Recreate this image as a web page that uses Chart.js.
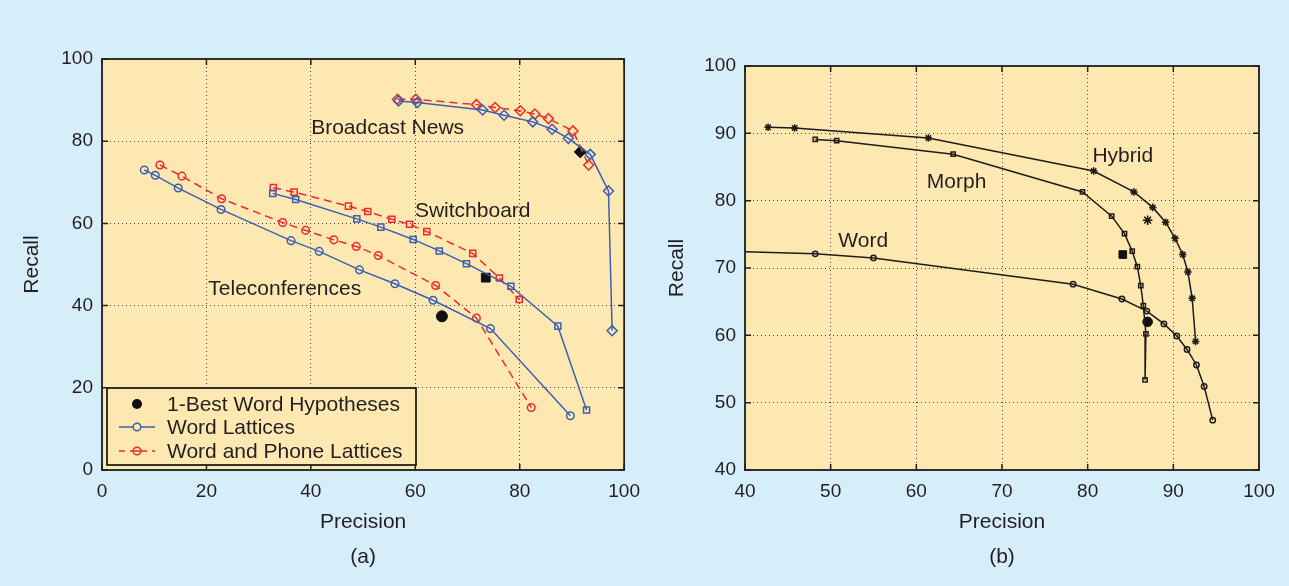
<!DOCTYPE html>
<html>
<head>
<meta charset="utf-8">
<script src="https://cdn.jsdelivr.net/npm/chart.js@4.4.0/dist/chart.umd.min.js"></script>
<style>
html, body { margin: 0; padding: 0; background: #d6edfa; }
#wrap { position: relative; width: 1289px; height: 586px; overflow: hidden; }
#chartA { position: absolute; left: 0; top: 0; }
#chartB { position: absolute; left: 650px; top: 0; }
</style>
</head>
<body>
<div id="wrap">
  <canvas id="chartA" width="650" height="586"></canvas>
  <canvas id="chartB" width="639" height="586"></canvas>
</div>
<script>
// ---- (a) precision / recall, three corpora ----
const bnWordX  = [56.8, 60.4, 72.9, 77.0, 82.5, 86.2, 89.3, 93.5, 97.0, 97.7];
const bnWordY  = [89.8, 89.4, 87.6, 86.3, 84.7, 82.9, 80.7, 76.8, 67.9, 33.9];
const bnPhoneX = [56.6, 60.1, 71.7, 75.3, 80.1, 82.9, 85.5, 90.2, 93.2];
const bnPhoneY = [90.2, 90.2, 88.9, 88.2, 87.4, 86.6, 85.5, 82.5, 74.2];
const swWordX  = [32.7, 37.1, 48.8, 53.4, 59.6, 64.6, 69.8, 78.3, 87.3, 92.8];
const swWordY  = [67.3, 65.8, 61.1, 59.1, 56.1, 53.3, 50.2, 44.7, 35.0, 14.6];
const swPhoneX = [32.8, 36.8, 47.2, 50.9, 55.5, 58.9, 62.2, 71.0, 76.1, 79.9];
const swPhoneY = [68.7, 67.6, 64.2, 62.9, 61.0, 59.8, 58.0, 52.7, 46.7, 41.5];
const tcWordX  = [8.1, 10.2, 14.6, 22.8, 36.2, 41.6, 49.3, 56.1, 63.4, 74.4, 89.7];
const tcWordY  = [73.0, 71.7, 68.6, 63.4, 55.8, 53.2, 48.7, 45.3, 41.3, 34.4, 13.2];
const tcPhoneX = [11.1, 15.3, 22.9, 34.6, 39.0, 44.4, 48.7, 52.9, 63.9, 71.7, 82.2];
const tcPhoneY = [74.2, 71.5, 66.0, 60.2, 58.3, 56.0, 54.4, 52.2, 44.9, 37.0, 15.2];
const oneBestX = [91.6, 73.5, 65.1];   // BN, SW, TC
const oneBestY = [77.4, 46.8, 37.4];
const corpusNames = ['Broadcast News', 'Switchboard', 'Teleconferences'];
const corpusLabelX = [54.7, 71.0, 35.0];
const corpusLabelY = [83.2, 62.9, 44.1];
const legendA = ['1-Best Word Hypotheses', 'Word Lattices', 'Word and Phone Lattices'];

// ---- (b) word / morph / hybrid ----
const hybridX = [42.7, 45.8, 61.4, 80.7, 85.4, 87.6, 89.1, 90.2, 91.1, 91.7, 92.2, 92.6];
const hybridY = [90.9, 90.8, 89.3, 84.4, 81.3, 79.0, 76.8, 74.4, 72.0, 69.4, 65.5, 59.1];
const morphX  = [48.2, 50.7, 64.3, 79.4, 82.8, 84.3, 85.2, 85.8, 86.2, 86.5, 86.8, 86.7];
const morphY  = [89.1, 88.9, 86.9, 81.3, 77.7, 75.1, 72.5, 70.2, 67.4, 64.4, 60.2, 53.4];
const wordX   = [40.0, 48.2, 55.0, 78.3, 84.0, 86.9, 88.9, 90.4, 91.6, 92.7, 93.6, 94.6];
const wordY   = [72.4, 72.1, 71.5, 67.6, 65.4, 63.6, 61.7, 59.9, 57.9, 55.6, 52.4, 47.4];
const bestBX  = [87.0, 84.1, 87.0];   // word, morph, hybrid
const bestBY  = [62.0, 72.0, 77.1];
const unitNames  = ['Hybrid', 'Morph', 'Word'];
const unitLabelX = [84.1, 64.7, 53.8];
const unitLabelY = [86.6, 82.8, 74.0];

const BG = '#fee8b1';
const BLUE = '#3c5fb3';
const RED = '#ec2a2f';
const INK = '#231f20';
const FONT = "'Liberation Sans', Arial, sans-serif";

Chart.defaults.font.family = FONT;
Chart.defaults.color = INK;

function pts(xs, ys) {
    return xs.map((x, i) => ({ x: x, y: ys[i] }));
}

// matlab-ish frame: background, box, inward ticks, text labels, caption, legend
const framePlugin = {
    id: 'frame',
    beforeDraw(chart, args, opts) {
        const { ctx, chartArea: a } = chart;
        ctx.save();
        ctx.fillStyle = BG;
        ctx.fillRect(a.left, a.top, a.right - a.left, a.bottom - a.top);
        ctx.restore();
    },
    afterDraw(chart, args, opts) {
        const { ctx, chartArea: a } = chart;
        const xs = chart.scales.x, ys = chart.scales.y;
        ctx.save();
        ctx.strokeStyle = INK;
        ctx.lineWidth = 1.5;
        ctx.setLineDash([]);
        ctx.beginPath();
        xs.ticks.forEach(t => {
            const px = xs.getPixelForValue(t.value);
            ctx.moveTo(px, a.bottom); ctx.lineTo(px, a.bottom - 6);
            ctx.moveTo(px, a.top); ctx.lineTo(px, a.top + 6);
        });
        ys.ticks.forEach(t => {
            const py = ys.getPixelForValue(t.value);
            ctx.moveTo(a.left, py); ctx.lineTo(a.left + 6, py);
            ctx.moveTo(a.right, py); ctx.lineTo(a.right - 6, py);
        });
        ctx.stroke();
        ctx.lineWidth = 1.8;
        ctx.strokeRect(a.left, a.top, a.right - a.left, a.bottom - a.top);

        // curve names
        ctx.fillStyle = INK;
        ctx.font = '21px ' + FONT;
        ctx.textAlign = 'center';
        ctx.textBaseline = 'middle';
        opts.names.forEach((n, i) => {
            ctx.fillText(n, xs.getPixelForValue(opts.nameX[i]), ys.getPixelForValue(opts.nameY[i]));
        });

        // panel caption
        ctx.font = '21px ' + FONT;
        ctx.fillText(opts.caption, (a.left + a.right) / 2, 557);

        if (opts.legend) {
            const lx = a.left + 5, ly = a.bottom - 82, lw = 309, lh = 77;
            ctx.fillStyle = BG;
            ctx.fillRect(lx, ly, lw, lh);
            ctx.lineWidth = 1.8;
            ctx.strokeStyle = INK;
            ctx.strokeRect(lx, ly, lw, lh);
            const rowY = [ly + 16, ly + 39, ly + 63];
            const symX = lx + 30;
            // row 0: filled black dot
            ctx.fillStyle = '#111';
            ctx.beginPath(); ctx.arc(symX, rowY[0], 5, 0, Math.PI * 2); ctx.fill();
            // row 1: blue solid
            ctx.strokeStyle = BLUE; ctx.lineWidth = 1.5;
            ctx.beginPath(); ctx.moveTo(lx + 12, rowY[1]); ctx.lineTo(lx + 48, rowY[1]); ctx.stroke();
            ctx.beginPath(); ctx.arc(symX, rowY[1], 3.8, 0, Math.PI * 2); ctx.fillStyle = BG; ctx.fill(); ctx.stroke();
            // row 2: red dashed
            ctx.strokeStyle = RED;
            ctx.setLineDash([6, 5]);
            ctx.beginPath(); ctx.moveTo(lx + 12, rowY[2]); ctx.lineTo(lx + 48, rowY[2]); ctx.stroke();
            ctx.setLineDash([]);
            ctx.beginPath(); ctx.arc(symX, rowY[2], 3.8, 0, Math.PI * 2); ctx.fillStyle = BG; ctx.fill(); ctx.stroke();
            ctx.beginPath(); ctx.moveTo(symX - 3, rowY[2]); ctx.lineTo(symX + 3, rowY[2]); ctx.stroke();

            ctx.fillStyle = INK;
            ctx.font = '21px ' + FONT;
            ctx.textAlign = 'left';
            opts.legend.forEach((t, i) => ctx.fillText(t, lx + 60, rowY[i] + 1));
        }
        ctx.restore();
    }
};

function axes(min, max, step, yWidth, yTitlePad) {
    const common = {
        type: 'linear',
        min: min,
        max: max,
        grid: { color: '#4a443c', lineWidth: 1, drawTicks: false },
        border: { display: false, dash: [1, 3] },
        ticks: { stepSize: step, padding: 9, color: INK, font: { size: 19 } },
    };
    return {
        x: Object.assign({}, common, {
            ticks: Object.assign({}, common.ticks, { padding: 10 }),
            title: { display: true, text: 'Precision', color: INK, font: { size: 21 }, padding: { top: 0, bottom: 25 } },
            afterFit: s => { s.height = 90; }
        }),
        y: Object.assign({}, common, {
            title: { display: true, text: 'Recall', color: INK, font: { size: 21 }, padding: { top: yTitlePad, bottom: 0 } },
            afterFit: s => { s.width = yWidth; }
        })
    };
}

function line(xs, ys, color, style, r, dashed) {
    return {
        data: pts(xs, ys),
        showLine: true,
        borderColor: color,
        borderWidth: 1.5,
        borderDash: dashed ? [8, 5] : [],
        pointStyle: style,
        pointRadius: r,
        pointBorderColor: color,
        pointBackgroundColor: 'rgba(0,0,0,0)',
        pointBorderWidth: 1.5,
        tension: 0
    };
}

new Chart(document.getElementById('chartA'), {
    type: 'scatter',
    data: {
        datasets: [
            line(bnWordX, bnWordY, BLUE, 'rectRot', 5, false),
            line(bnPhoneX, bnPhoneY, RED, 'rectRot', 5, true),
            line(swWordX, swWordY, BLUE, 'rect', 4.3, false),
            line(swPhoneX, swPhoneY, RED, 'rect', 4.3, true),
            line(tcWordX, tcWordY, BLUE, 'circle', 3.8, false),
            line(tcPhoneX, tcPhoneY, RED, 'circle', 3.8, true),
            {
                data: pts(oneBestX, oneBestY),
                showLine: false,
                pointStyle: ['rectRot', 'rect', 'circle'],
                pointRadius: [6, 6.2, 5.5],
                pointBackgroundColor: '#111',
                pointBorderColor: '#111',
                pointBorderWidth: 1
            }
        ]
    },
    options: {
        responsive: false,
        animation: false,
        events: [],
        layout: { padding: { left: 17, right: 25, top: 59, bottom: 26 } },
        scales: axes(0, 100, 20, 85, 3),
        plugins: {
            legend: { display: false },
            tooltip: { enabled: false },
            frame: { names: corpusNames, nameX: corpusLabelX, nameY: corpusLabelY, caption: '(a)', legend: legendA }
        }
    },
    plugins: [framePlugin]
});

const wordRadius = wordX.map((_, i) => i === 0 ? 0 : 2.7);

new Chart(document.getElementById('chartB'), {
    type: 'scatter',
    data: {
        datasets: [
            line(hybridX, hybridY, '#1e1c1a', 'star', 3.8, false),
            line(morphX, morphY, '#1e1c1a', 'rect', 3, false),
            Object.assign(line(wordX, wordY, '#1e1c1a', 'circle', 2.7, false), { pointRadius: wordRadius }),
            {
                data: pts(bestBX, bestBY),
                showLine: false,
                pointStyle: ['circle', 'rect', 'star'],
                pointRadius: [4.8, 5.4, 4.8],
                pointBackgroundColor: '#111',
                pointBorderColor: '#111',
                pointBorderWidth: [1, 1, 1.5]
            }
        ]
    },
    options: {
        responsive: false,
        animation: false,
        events: [],
        layout: { padding: { left: 10, right: 30, top: 66, bottom: 26 } },
        scales: axes(40, 100, 10, 85, 5),
        plugins: {
            legend: { display: false },
            tooltip: { enabled: false },
            frame: { names: unitNames, nameX: unitLabelX, nameY: unitLabelY, caption: '(b)', legend: null }
        }
    },
    plugins: [framePlugin]
});
</script>
</body>
</html>
